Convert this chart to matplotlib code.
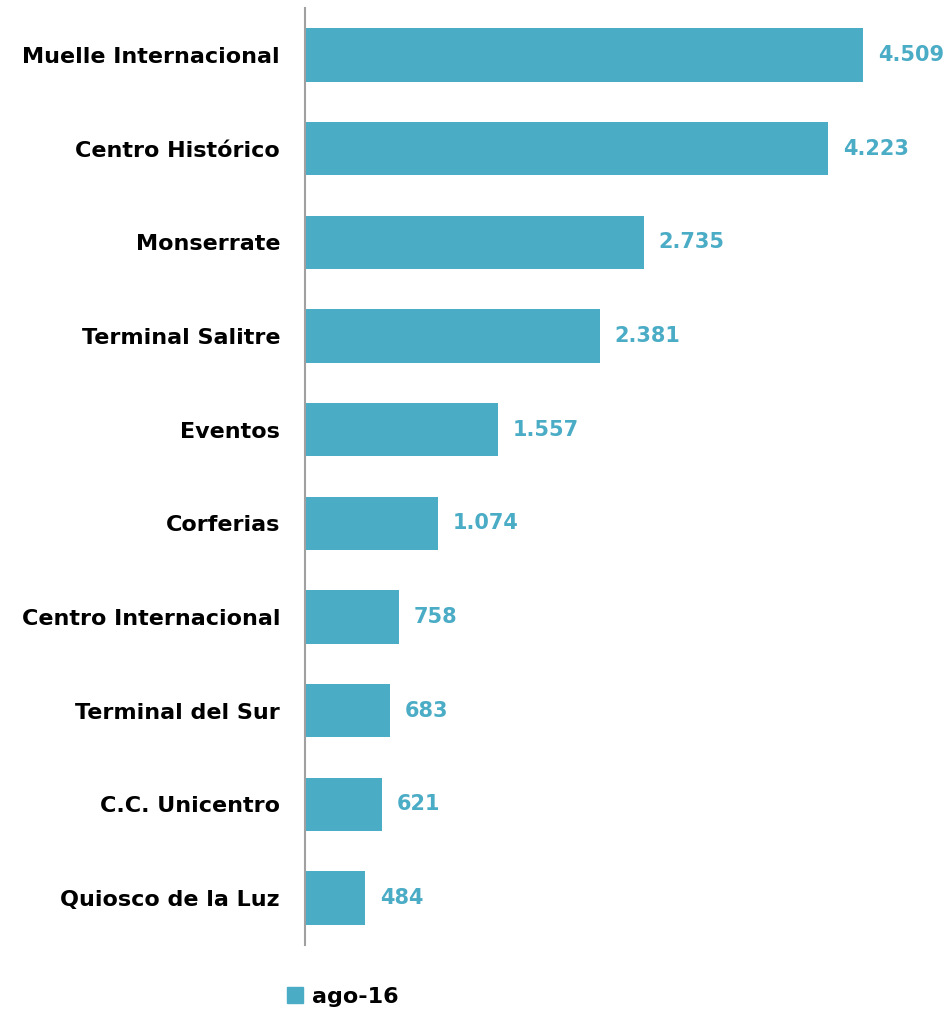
import matplotlib.pyplot as plt
from matplotlib.patches import Patch

# Data
categories = ['Muelle Internacional', 'Centro Histórico', 'Monserrate', 'Terminal Salitre',
              'Eventos', 'Corferias', 'Centro Internacional', 'Terminal del Sur',
              'C.C. Unicentro', 'Quiosco de la Luz']
values = [4509, 4223, 2735, 2381, 1557, 1074, 758, 683, 621, 484]
value_labels = ['4.509', '4.223', '2.735', '2.381', '1.557', '1.074', '758', '683', '621', '484']
series_name = 'ago-16'

color = '#4BACC6'
plt.rcParams['font.family'] = ['DejaVu Sans']

fig = plt.figure(figsize=(9.47, 10.11), dpi=100)
ax = fig.add_axes([305 / 947, 66 / 1011, 1 - 305 / 947, 937 / 1011])

y = list(range(len(categories)))
ax.barh(y, values, height=0.57, color=color)
ax.set_ylim(len(categories) - 0.5, -0.5)
ax.set_xlim(0, 5186)

for yi, v, lab in zip(y, values, value_labels):
    ax.text(v + 120, yi, lab, va='center', ha='left', color=color,
            fontsize=15, fontweight='bold')

ax.set_yticks(y)
ax.set_yticklabels(categories, fontsize=16, fontweight='bold', color='black')
ax.tick_params(axis='y', length=0, pad=18)
ax.set_xticks([])

for s in ['top', 'right', 'bottom']:
    ax.spines[s].set_visible(False)
ax.spines['left'].set_color('#A0A0A0')
ax.spines['left'].set_linewidth(1.5)

fig.legend(handles=[Patch(color=color)], labels=[series_name], loc='center',
           bbox_to_anchor=(343 / 947, 1 - 997 / 1011), frameon=False,
           prop={'size': 16, 'weight': 'bold'}, handlelength=0.7, handleheight=0.7,
           handletextpad=0.4)

fig.savefig('out.png', dpi=100)
